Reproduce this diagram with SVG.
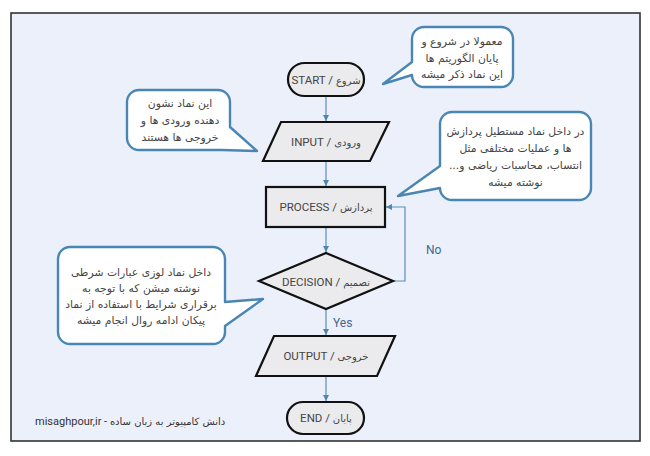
<svg xmlns="http://www.w3.org/2000/svg" width="650" height="456" viewBox="0 0 650 456">
<defs>
<marker id="arr" markerUnits="userSpaceOnUse" markerWidth="8" markerHeight="8" refX="6" refY="3" orient="auto">
<path d="M0,0 L6,3 L0,6 Z" fill="#4f86b0"/>
</marker>
<style>
.node{fill:#ebebed;stroke:#111;stroke-width:2.2}
.lbl{font-family:Roboto,"DejaVu Sans",sans-serif;font-size:11.5px;fill:#444;text-anchor:middle}
.fa{font-family:"DejaVu Sans",sans-serif;font-size:10px}
.call{fill:#fff;stroke:#4a86b4;stroke-width:2.4;stroke-linejoin:round}
.ctext{font-family:"DejaVu Sans",sans-serif;font-size:10.8px;fill:#444;text-anchor:middle;direction:rtl}
.conn{fill:none;stroke:#5a8fb5;stroke-width:1.2}
.yn{font-family:Roboto,"DejaVu Sans",sans-serif;font-size:12px;fill:#3f6a8c}
</style>
</defs>
<rect x="0" y="0" width="650" height="456" fill="#fff"/>
<rect id="frame" x="11" y="13" width="629" height="428" fill="#ecf0fb" stroke="#333" stroke-width="1.6"/>

<g id="connectors">
<line class="conn" x1="326" y1="96" x2="326" y2="121" marker-end="url(#arr)"/>
<line class="conn" x1="326" y1="161" x2="326" y2="186" marker-end="url(#arr)"/>
<line class="conn" x1="326" y1="227" x2="326" y2="252" marker-end="url(#arr)"/>
<line class="conn" x1="326" y1="309" x2="326" y2="335" marker-end="url(#arr)"/>
<line class="conn" x1="326" y1="376" x2="326" y2="401" marker-end="url(#arr)"/>
<path class="conn" d="M393,281 H405 V207 H386" marker-end="url(#arr)"/>
<text class="yn" x="426" y="253.5">No</text>
<text class="yn" x="333" y="327">Yes</text>
</g>

<g id="start">
<rect class="node" x="288" y="63" width="76" height="33" rx="16.5"/>
<text class="lbl" x="326" y="83.5">START / <tspan class="fa">شروع</tspan></text>
</g>
<g id="input">
<polygon class="node" points="281,122 389,122 370,161 263,161"/>
<text class="lbl" x="326" y="145.5">INPUT / <tspan class="fa">ورودی</tspan></text>
</g>
<g id="process">
<rect class="node" x="266" y="187" width="119" height="40"/>
<text class="lbl" x="326" y="211">PROCESS / <tspan class="fa">پردازش</tspan></text>
</g>
<g id="decision">
<polygon class="node" points="326,253 393,281 326,309 259,281"/>
<text class="lbl" x="326" y="285.5">DECISION / <tspan class="fa">تصمیم</tspan></text>
</g>
<g id="output">
<polygon class="node" points="274,336 395,336 377,376 256,376"/>
<text class="lbl" x="326" y="360">OUTPUT / <tspan class="fa">خروجی</tspan></text>
</g>
<g id="end">
<rect class="node" x="287" y="402" width="77" height="32" rx="16"/>
<text class="lbl" x="326" y="422">END / <tspan class="fa">پایان</tspan></text>
</g>

<g id="note-start">
<path class="call" d="M424,27 H501 A12,12 0 0 1 513,39 V75 A12,12 0 0 1 501,87 H424 A12,12 0 0 1 412,75 L383,84 L412,62 V39 A12,12 0 0 1 424,27 Z"/>
<text class="ctext" x="462" y="44.5">معمولا در شروع و</text>
<text class="ctext" x="462" y="61.5">پایان الگوریتم ها</text>
<text class="ctext" x="462" y="78">این نماد ذکر میشه</text>
</g>
<g id="note-process">
<path class="call" d="M452,112 H579 A12,12 0 0 1 591,124 V188 A12,12 0 0 1 579,200 H452 A12,12 0 0 1 440,188 L398,196 L440,166 V124 A12,12 0 0 1 452,112 Z"/>
<text class="ctext" x="515.5" y="134.5">در داخل نماد مستطیل پردازش</text>
<text class="ctext" x="515.5" y="151.5">ها و عملیات مختلفی مثل</text>
<text class="ctext" x="515.5" y="168.5">انتساب، محاسبات ریاضی و...</text>
<text class="ctext" x="515.5" y="185.5">نوشته میشه</text>
</g>
<g id="note-input">
<path class="call" d="M139,90 H218 A12,12 0 0 1 230,102 V127 L257,151 L222,150 H139 A12,12 0 0 1 127,138 V102 A12,12 0 0 1 139,90 Z"/>
<text class="ctext" x="180" y="107">این نماد نشون</text>
<text class="ctext" x="180" y="124">دهنده ورودی ها و</text>
<text class="ctext" x="180" y="141">خروجی ها هستند</text>
</g>
<g id="note-decision">
<path class="call" d="M70,247 H213 A12,12 0 0 1 225,259 V302 L263,299 L225,326 V332 A12,12 0 0 1 213,344 H70 A12,12 0 0 1 58,332 V259 A12,12 0 0 1 70,247 Z"/>
<text class="ctext" x="141" y="275.5">داخل نماد لوزی عبارات شرطی</text>
<text class="ctext" x="141" y="291.5">نوشته میشن که با توجه به</text>
<text class="ctext" x="141" y="308">برقراری شرایط با استفاده از نماد</text>
<text class="ctext" x="141" y="324">پیکان ادامه روال انجام میشه</text>
</g>

<text id="footer" x="35" y="425" font-family="Roboto,'DejaVu Sans',sans-serif" font-size="11" fill="#333">misaghpour,ir - <tspan font-family="'DejaVu Sans',sans-serif" font-size="10">دانش کامپیوتر به زبان ساده</tspan></text>
</svg>
